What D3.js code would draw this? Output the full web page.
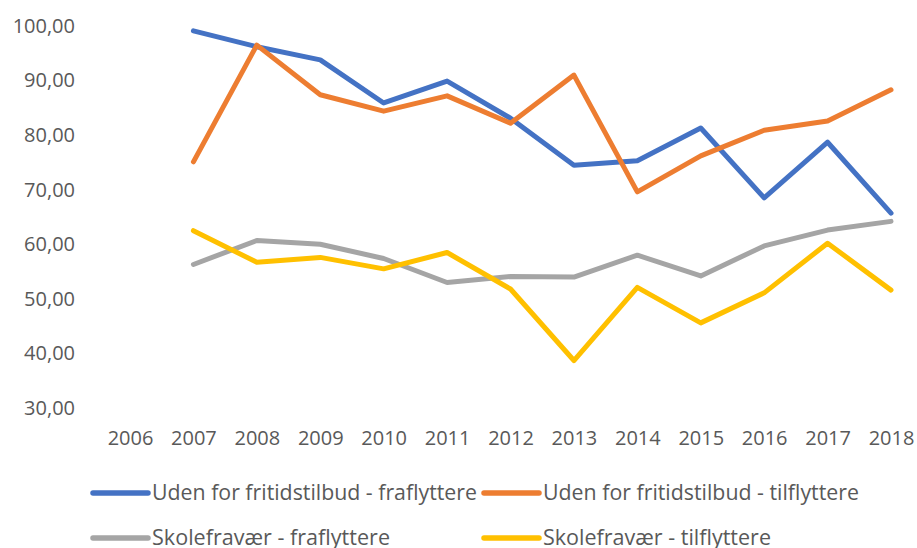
<!DOCTYPE html>
<html>
<head>
<meta charset="utf-8">
<script src="https://cdn.jsdelivr.net/npm/d3@7"></script>
<style>
  body { margin: 0; background: #fff; }
  text { font-family: "Open Sans", "Liberation Sans", Arial, sans-serif; fill: #595959; }
</style>
</head>
<body>
<div id="chart"></div>
<script>
const years = ['2006','2007','2008','2009','2010','2011','2012','2013','2014','2015','2016','2017','2018'];
const yTicks = [30, 40, 50, 60, 70, 80, 90, 100];

// values per year, null = no value (2006)
const udenFra  = [null, 99.1, 96.2, 93.8, 85.9, 89.9, 83.1, 74.5, 75.3, 81.3, 68.5, 78.7, 65.7];
const udenTil  = [null, 75.1, 96.5, 87.4, 84.4, 87.2, 82.2, 91.0, 69.6, 76.2, 80.9, 82.6, 88.3];
const skoleFra = [null, 56.3, 60.7, 60.0, 57.4, 53.0, 54.1, 54.0, 58.0, 54.2, 59.7, 62.6, 64.2];
const skoleTil = [null, 62.5, 56.7, 57.6, 55.5, 58.5, 51.8, 38.7, 52.1, 45.6, 51.1, 60.2, 51.6];

const series = [
  { name: 'Uden for fritidstilbud - fraflyttere', values: udenFra,  color: '#4472C4', textW: 325 },
  { name: 'Uden for fritidstilbud - tilflyttere', values: udenTil,  color: '#ED7D31', textW: 316 },
  { name: 'Skolefravær - fraflyttere',            values: skoleFra, color: '#A5A5A5', textW: 238 },
  { name: 'Skolefravær - tilflyttere',            values: skoleTil, color: '#FFC000', textW: 228 }
];

const width = 917, height = 548;

const svg = d3.select('#chart').append('svg')
  .attr('width', width)
  .attr('height', height);

const x = d3.scalePoint().domain(years).range([130, 891]);
const y = d3.scaleLinear().domain([30, 100]).range([408, 26]);

// y axis labels
const yAxis = svg.append('g')
  .attr('transform', 'translate(84,0)')
  .call(d3.axisLeft(y).tickValues(yTicks).tickSize(0).tickPadding(9)
    .tickFormat(d => d3.format('.2f')(d).replace('.', ',')));
yAxis.select('.domain').remove();
yAxis.selectAll('text')
  .attr('font-size', 20)
  .attr('fill', '#595959')
  .style('font-family', '"Open Sans", "Liberation Sans", Arial, sans-serif');

// x axis labels
const xAxis = svg.append('g')
  .attr('transform', 'translate(0,425)')
  .call(d3.axisBottom(x).tickSize(0).tickPadding(6));
xAxis.select('.domain').remove();
xAxis.selectAll('text')
  .attr('font-size', 20)
  .attr('fill', '#595959')
  .style('font-family', '"Open Sans", "Liberation Sans", Arial, sans-serif');

// lines
const line = d3.line()
  .defined(d => d.v != null)
  .x(d => x(d.year))
  .y(d => y(d.v));

series.forEach(s => {
  svg.append('path')
    .datum(years.map((yr, i) => ({ year: yr, v: s.values[i] })))
    .attr('fill', 'none')
    .attr('stroke', s.color)
    .attr('stroke-width', 5)
    .attr('stroke-linejoin', 'round')
    .attr('stroke-linecap', 'round')
    .attr('d', line);
});

// legend, 2 x 2
const legend = svg.append('g');
const legPos = [[93, 493], [484, 493], [93, 538], [484, 538]];
series.forEach((s, i) => {
  const [lx, ly] = legPos[i];
  const g = legend.append('g').attr('transform', `translate(${lx},${ly})`);
  g.append('line')
    .attr('x1', 0).attr('x2', 55)
    .attr('y1', 0).attr('y2', 0)
    .attr('stroke', s.color)
    .attr('stroke-width', 5.5)
    .attr('stroke-linecap', 'round');
  g.append('text')
    .attr('x', 59)
    .attr('y', 0)
    .attr('dy', '0.35em')
    .attr('font-size', 21)
    .attr('textLength', s.textW)
    .attr('lengthAdjust', 'spacingAndGlyphs')
    .text(s.name);
});
</script>
</body>
</html>
